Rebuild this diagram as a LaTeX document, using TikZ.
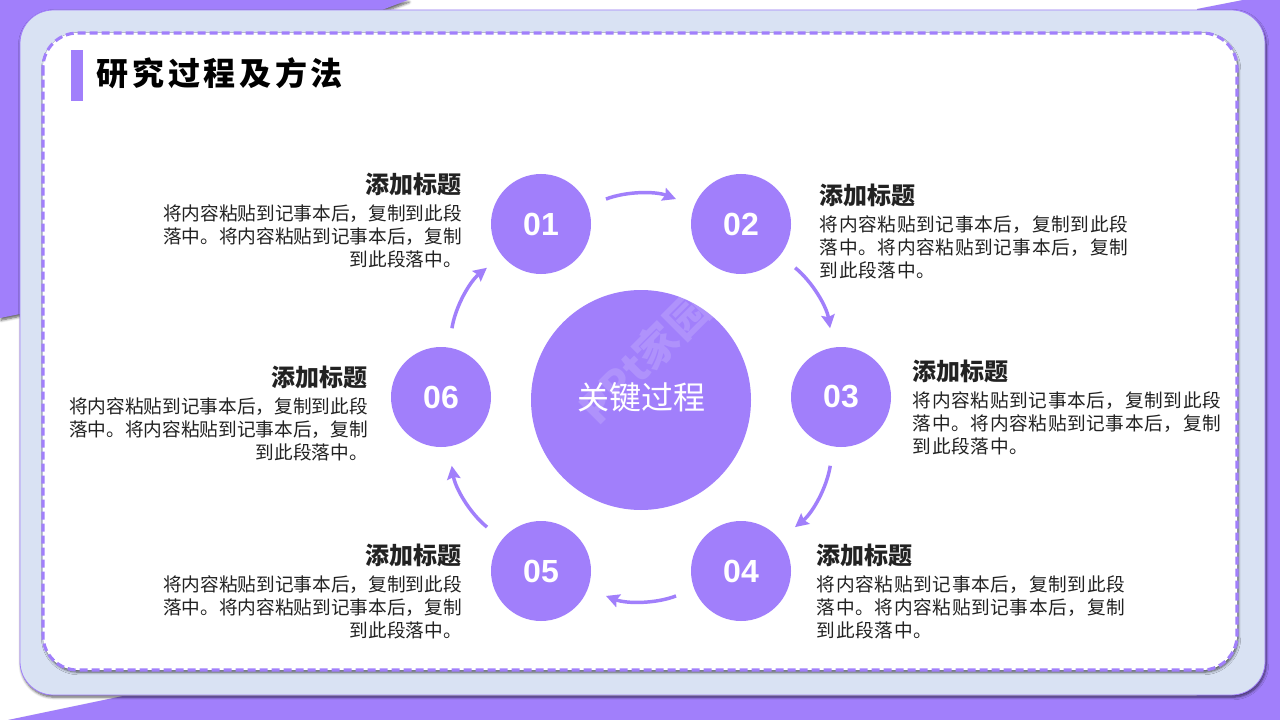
\documentclass[tikz,border=0pt]{standalone}
\usepackage{fontspec}
\setmainfont{Noto Sans CJK SC}
\newfontfamily\widecjk[LetterSpace=3.5]{Noto Sans CJK SC}
\newfontfamily\titlecjk[LetterSpace=11.5]{Noto Sans CJK SC}
\newfontfamily\numfont{Liberation Sans}
\usetikzlibrary{arrows.meta,shadows,shadows.blur}
\definecolor{lilac}{HTML}{A17FFB}
\definecolor{cardblue}{HTML}{D9E2F3}
\definecolor{inkgrey}{HTML}{222222}
\tikzstyle{softshadow}=[blur shadow={shadow xshift=.8pt,shadow yshift=-1.6pt,shadow blur steps=6,shadow blur radius=2pt,shadow opacity=65}]
\tikzstyle{stage}=[circle, inner sep=0pt, minimum size=75pt, fill=lilac, text=white, font=\numfont\fontsize{24}{24}\selectfont\bfseries]
\tikzstyle{flow}=[lilac, line width=2.6pt, shorten <=14.5pt, shorten >=14.5pt, -{Stealth[length=10pt,width=10pt,inset=1.5pt]}]
\tikzstyle{headtxt}=[inner sep=0pt, text=inkgrey, font=\fontsize{18}{20}\selectfont\bfseries]
\tikzstyle{bodytxt}=[inner sep=0pt, text=inkgrey, font=\fontsize{14}{17.25}\selectfont]
\tikzstyle{bodywide}=[inner sep=0pt, text=inkgrey, font=\widecjk\fontsize{14}{17.25}\selectfont]
\newcommand{\stage}{\node[stage]}
\newcommand{\filler}{将内容粘贴到记事本后，复制到此段\\落中。将内容粘贴到记事本后，复制\\到此段落中。}
\begin{document}
\begin{tikzpicture}[x=.75pt,y=-.75pt]
\useasboundingbox (0,0) rectangle (1280,720);
%%purple backdrop
\fill[lilac, softshadow] (0,0) -- (408,0) -- (382,10) -- (70,10) -- (70,60) -- (20,60) -- (20,314) -- (0,318) -- cycle;
\fill[lilac, softshadow] (1243,0) -- (1280,0) -- (1280,720) -- (8,720) -- (123,696) -- (1197,696) -- (1197,9) -- cycle;
%%card
\draw[lilac, line width=.6pt, fill=cardblue, rounded corners=25pt, softshadow] (20,10) rectangle (1265,695);
\draw[lilac, line width=2.3pt, dash pattern=on 6pt off 3pt, fill=white, rounded corners=26pt, softshadow] (43,33) rectangle (1237,670);
%%title
\fill[lilac] (71,50) rectangle (83,101);
\node[inner sep=0pt, anchor=west, text=black, font=\titlecjk\fontsize{24}{24}\selectfont\bfseries] (title) at (96.5,73) {研究过程及方法};
%%centre
\node[circle, inner sep=0pt, minimum size=165pt, fill=lilac] (hub) at (641,400) {};
\node[rotate=45, white, opacity=.15, font=\fontsize{32}{32}\selectfont\bfseries] (mark) at (644,358) {PPt家园};
\node[white, inner sep=0pt, font=\fontsize{24}{24}\selectfont] (hubtxt) at (641,397) {关键过程};
%stages
\foreach \i/\x/\y in {1/541/224,2/741/224,3/841/397,4/741/571,5/541/571,6/441/397}{
	\stage (s\i) at (\x,\y) {0\i};
	}
\foreach \i/\j in {1/2,2/3,3/4,4/5,5/6,6/1}{\draw[flow] (s\i) to[bend left=21] (s\j);}
%left texts
\foreach \i/\x/\y in {1/462/184,5/462/555,6/368/377}{
	\node[headtxt, anchor=east] (h\i) at (\x,\y) {添加标题};
	\node[bodytxt, anchor=east, align=right] (d\i) at (\x,\y+52) {\filler};
	}
%right texts
\foreach \i/\x/\y in {2/819.5/195,3/912.5/371,4/816.5/555}{
	\node[headtxt, anchor=west] (h\i) at (\x,\y) {添加标题};
	\node[bodywide, anchor=west, align=left] (d\i) at (\x,\y+52) {\filler};
	}
\end{tikzpicture}
\end{document}
